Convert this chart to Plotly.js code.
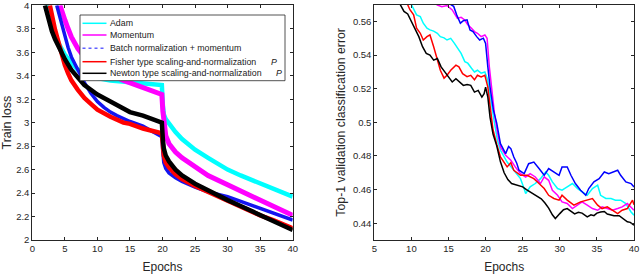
<!DOCTYPE html>
<html>
<head>
<meta charset="utf-8">
<script src="https://cdn.plot.ly/plotly-3.0.1.min.js"></script>
<style>html,body{margin:0;padding:0;background:#fff;}#chart{width:640px;height:274px;}</style>
</head>
<body>
<div id="chart"></div>
<script>
// ---------- Left panel: train loss ----------
const names = ["Adam", "Momentum", "Batch normalization + momentum", "Fisher type scaling-and-normalization", "Newton type scaling-and-normalization"];
const colors = ["#00FFFF", "#FF00FF", "#0000FF", "#FF0000", "#000000"];

const adamLossX = [2.2,2.6,3,3.5,4,4.5,5,6,7,8,9,10,12,14,16,18,19.9,20.05,20.2,20.5,21,22,23,24,25,27,30,32,35,37,40];
const adamLossY = [4.0,3.92,3.85,3.76,3.68,3.62,3.58,3.51,3.45,3.42,3.40,3.38,3.36,3.35,3.34,3.33,3.32,3.15,3.07,3.03,2.99,2.92,2.86,2.81,2.77,2.70,2.60,2.55,2.48,2.44,2.37];

const momLossX = [4.25,4.6,5,5.5,6,7,8,9,10,12,14,15,17,19.9,20.05,20.2,20.5,21,22,23,25,27,30,32,35,37,40];
const momLossY = [4.0,3.93,3.875,3.80,3.73,3.63,3.56,3.52,3.48,3.41,3.36,3.34,3.29,3.24,3.10,2.98,2.89,2.82,2.75,2.70,2.62,2.55,2.47,2.42,2.34,2.29,2.21];

const bnLossX = [3.75,4,4.5,5,5.5,6,7,8,9,10,11,12,13,15,17,19.9,20.05,20.2,20.5,21,22,23,25,27,30,32,35,37,40];
const bnLossY = [4.0,3.95,3.84,3.73,3.64,3.56,3.45,3.34,3.25,3.18,3.13,3.09,3.06,3.01,2.97,2.88,2.75,2.66,2.61,2.57,2.53,2.50,2.45,2.41,2.37,2.33,2.27,2.23,2.17];

const fisherLossX = [2.7,3,3.5,4,4.5,5,5.5,6,7,8,9,10,12,14,15,17,19.9,20.05,20.2,20.5,21,22,23,25,27,30,32,35,37,40];
const fisherLossY = [4.0,3.91,3.79,3.69,3.58,3.49,3.42,3.36,3.28,3.21,3.16,3.11,3.05,3.00,2.99,2.95,2.91,2.80,2.72,2.66,2.62,2.56,2.52,2.46,2.41,2.33,2.28,2.21,2.17,2.10];

const newtonLossX = [1.95,2.5,3,3.5,4,4.5,5,6,7,8,9,10,12,14,15,17,19.9,20.05,20.2,20.5,21,22,23,25,27,30,32,35,37,40];
const newtonLossY = [4.0,3.88,3.78,3.71,3.65,3.59,3.54,3.45,3.38,3.32,3.28,3.24,3.18,3.12,3.09,3.06,3.00,2.86,2.78,2.72,2.67,2.60,2.55,2.48,2.42,2.34,2.29,2.21,2.16,2.085];

// ---------- Right panel: top-1 validation error ----------
const adamErrX = [10.0,10.4,10.7,11.2,11.6,12.1,12.5,13,13.5,13.9,14.4,14.8,15.3,15.8,16.2,16.7,17.2,17.6,18.1,18.5,18.9,19.4,19.9,20.2,20.5,20.8,21.2,21.6,22,22.9,23.8,24.7,25.2,25.4,26,26.7,27.4,28.1,28.5,29,29.7,30.3,31,31.7,32.4,33,33.7,34.4,35.1,35.5,36.2,36.9,37.5,38.2,38.9,39.6,40];
const adamErrY = [0.57,0.566,0.5639,0.5629,0.559,0.556,0.555,0.5543,0.553,0.551,0.5503,0.549,0.550,0.547,0.544,0.541,0.5361,0.5352,0.5322,0.530,0.531,0.5293,0.530,0.5263,0.5193,0.5094,0.4996,0.4893,0.4834,0.4764,0.4715,0.4665,0.4605,0.4576,0.4616,0.4636,0.4665,0.4705,0.4685,0.4646,0.4606,0.4596,0.4616,0.4636,0.4606,0.4586,0.4566,0.4606,0.4626,0.4566,0.4547,0.4547,0.4537,0.4537,0.4517,0.4467,0.4448];

const momErrX = [13.4,14.1,14.8,15.5,16.2,16.7,17.2,17.6,18.1,18.5,18.9,19.4,19.9,20.2,20.5,20.8,21.2,21.6,22,22.7,23.4,24,24.7,25.4,26,26.7,27.4,27.9,28.5,29,29.7,30.3,31,31.7,32.4,33,33.7,34.4,35.1,35.7,36.4,37.1,37.8,38.4,39.1,39.8,40];
const momErrY = [0.57,0.5688,0.5695,0.5669,0.5619,0.5625,0.5609,0.558,0.556,0.554,0.553,0.551,0.552,0.550,0.5332,0.521,0.505,0.494,0.4853,0.4804,0.4774,0.4735,0.4695,0.4675,0.4695,0.4675,0.4636,0.4675,0.4655,0.4596,0.4566,0.4527,0.4517,0.4487,0.4507,0.4527,0.4507,0.4487,0.4477,0.4497,0.4487,0.4477,0.4487,0.4497,0.4517,0.4487,0.4477];

const bnErrX = [15.3,15.7,16.1,16.6,17,17.5,17.9,18.3,18.8,19.2,19.7,20,20.3,20.6,21.05,21.5,22,22.4,22.7,23.1,23.4,23.8,24.2,24.5,25.2,25.8,26.5,27.2,27.9,28.5,29.2,29.9,30.3,31,31.5,32.1,32.8,33.5,33.9,34.6,35.3,36,36.6,37.3,37.8,38.2,38.9,39.6,40];
const bnErrY = [0.57,0.569,0.564,0.559,0.5605,0.561,0.555,0.554,0.551,0.549,0.5501,0.547,0.533,0.521,0.5074,0.4995,0.4873,0.4837,0.4814,0.4856,0.4844,0.4794,0.4757,0.4715,0.4695,0.4754,0.4764,0.4725,0.4685,0.4725,0.4705,0.4685,0.4735,0.4735,0.4685,0.4636,0.4596,0.4566,0.4606,0.4646,0.4665,0.4705,0.4695,0.4705,0.4715,0.4685,0.4646,0.4636,0.4616];

const fisherErrX = [9.5,9.8,10.3,10.7,11.2,11.6,12.1,12.5,13,13.5,13.9,14.4,14.8,15.3,16,16.4,16.9,17.5,18,18.5,18.9,19.4,19.9,20.3,20.5,21,21.5,22,22.9,23.4,23.8,24.7,25.6,26.5,27.2,27.9,28.5,29.2,29.9,30.3,31,31.9,32.8,33.7,34.4,35.1,35.7,36.4,37.1,37.8,38.4,39.1,39.8,40];
const fisherErrY = [0.57,0.567,0.564,0.556,0.553,0.549,0.551,0.552,0.545,0.538,0.531,0.5263,0.528,0.531,0.534,0.533,0.529,0.5272,0.528,0.5253,0.528,0.527,0.528,0.521,0.513,0.4956,0.487,0.4794,0.4735,0.476,0.4715,0.4685,0.4685,0.4665,0.4636,0.4606,0.4566,0.4547,0.4537,0.4566,0.4537,0.4507,0.4527,0.4537,0.4547,0.4507,0.4487,0.4497,0.4477,0.4457,0.4477,0.4487,0.4537,0.451];

const newtonErrX = [8.5,9,9.5,10,10.5,11,11.5,12,12.5,13,13.5,14,14.5,15,15.5,16,16.5,17,17.5,18,18.5,19,19.5,19.8,20,20.3,20.6,21,21.5,22,22.5,23,23.5,24,24.5,25,25.5,26,26.5,27,27.5,28,28.5,29,29.4,30,30.5,31,31.5,32,32.5,33,33.7,34.2,34.6,35,35.5,36,36.4,37,37.3,38,38.5,39.1,39.5,40];
const newtonErrY = [0.57,0.566,0.5645,0.560,0.555,0.551,0.545,0.541,0.540,0.537,0.538,0.533,0.530,0.527,0.524,0.526,0.524,0.522,0.5225,0.522,0.518,0.519,0.515,0.517,0.521,0.515,0.503,0.493,0.486,0.4765,0.470,0.466,0.4636,0.463,0.462,0.4616,0.460,0.4586,0.457,0.4555,0.4545,0.452,0.449,0.445,0.4428,0.4457,0.448,0.4487,0.447,0.4455,0.4465,0.446,0.4438,0.445,0.4445,0.446,0.4467,0.447,0.4455,0.445,0.4445,0.4445,0.443,0.4408,0.4405,0.4388];

const lossTickVals = [2,2.2,2.4,2.6,2.8,3,3.2,3.4,3.6,3.8,4];
const lossTickText = ["2","2.2","2.4","2.6","2.8","3","3.2","3.4","3.6","3.8","4"];
const errTickVals = [0.44,0.46,0.48,0.5,0.52,0.54,0.56];
const errTickText = ["0.44","0.46","0.48","0.5","0.52","0.54","0.56"];
const lossEpochTicks = [0,5,10,15,20,25,30,35,40];
const errEpochTicks = [5,10,15,20,25,30,35,40];

const lossX = [adamLossX, momLossX, bnLossX, fisherLossX, newtonLossX];
const lossY = [adamLossY, momLossY, bnLossY, fisherLossY, newtonLossY];
const errX = [adamErrX, momErrX, bnErrX, fisherErrX, newtonErrX];
const errY = [adamErrY, momErrY, bnErrY, fisherErrY, newtonErrY];
const lossWidths = [4.5, 5, 3.5, 4.5, 4.5];

const traces = [];
for (let i = 0; i < 5; i++) {
  traces.push({x: lossX[i], y: lossY[i], type: 'scatter', mode: 'lines', name: names[i],
    line: {color: i === 2 ? '#1414F0' : colors[i], width: lossWidths[i]},
    xaxis: 'x', yaxis: 'y', showlegend: false, hoverinfo: 'skip'});
}
for (let i = 0; i < 5; i++) {
  traces.push({x: errX[i], y: errY[i], type: 'scatter', mode: 'lines', name: names[i],
    line: {color: colors[i], width: 1.5}, xaxis: 'x2', yaxis: 'y2', showlegend: false, hoverinfo: 'skip'});
}

const W = 640, H = 274;
const px = v => v / W;
const py = v => 1 - v / H;
const axisCol = '#262626';
const fam = 'Liberation Sans, Arial, Helvetica, sans-serif';
const font = {family: fam, size: 9.5, color: axisCol};

function axisBase(extra) {
  return Object.assign({
    showline: true, linecolor: axisCol, linewidth: 1, mirror: 'ticks',
    ticks: 'inside', ticklen: 3, tickwidth: 1, tickcolor: axisCol,
    showgrid: false, zeroline: false, tickfont: font, fixedrange: true,
    ticklabeloverflow: 'allow'
  }, extra);
}

// legend drawn as shapes + annotations
const rowY = [23.3, 35, 48.3, 61.7, 73.3];
const shapes = [{type: 'rect', xref: 'paper', yref: 'paper', x0: px(80), x1: px(285), y0: py(80.7), y1: py(15),
  fillcolor: '#FFFFFF', line: {color: axisCol, width: 0.8}}];
const annotations = [];
const legFont = {family: fam, size: 8.8, color: '#1a1a1a'};
for (let i = 0; i < 5; i++) {
  shapes.push({type: 'line', xref: 'paper', yref: 'paper', x0: px(82.5), x1: px(106.5), y0: py(rowY[i]), y1: py(rowY[i]),
    line: {color: i === 2 ? '#6060FF' : colors[i], width: 1.5, dash: i === 2 ? 'dot' : 'solid'}});
  annotations.push({xref: 'paper', yref: 'paper', x: px(108.3), y: py(rowY[i]), xanchor: 'left', yanchor: 'middle',
    text: names[i], showarrow: false, font: legFont});
}
annotations.push({xref: 'paper', yref: 'paper', x: px(269), y: py(rowY[3]), xanchor: 'left', yanchor: 'middle',
  text: '<i>P</i>', showarrow: false, font: legFont});
annotations.push({xref: 'paper', yref: 'paper', x: px(274), y: py(rowY[4]), xanchor: 'left', yanchor: 'middle',
  text: '<i>P</i>', showarrow: false, font: legFont});

const titleFont = {family: fam, size: 12, color: axisCol};
const layout = {
  width: W, height: H, margin: {l: 0, r: 0, t: 0, b: 0},
  paper_bgcolor: '#FFFFFF', plot_bgcolor: '#FFFFFF', font: font, showlegend: false,
  xaxis: axisBase({domain: [px(32.3), px(292.7)], range: [0, 40], tickvals: lossEpochTicks, anchor: 'y',
    title: {text: 'Epochs', font: titleFont, standoff: 9}}),
  yaxis: axisBase({domain: [py(240), py(5.3)], range: [2, 4], tickvals: lossTickVals, ticktext: lossTickText, anchor: 'x',
    title: {text: 'Train loss', font: {family: fam, size: 12.5, color: axisCol}, standoff: 4}}),
  xaxis2: axisBase({domain: [px(374.3), px(634)], range: [5, 40], tickvals: errEpochTicks, anchor: 'y2',
    title: {text: 'Epochs', font: titleFont, standoff: 9}}),
  yaxis2: axisBase({domain: [py(240), py(4.7)], range: [0.43, 0.57], tickvals: errTickVals, ticktext: errTickText, anchor: 'x2',
    title: {text: 'Top-1 validation classification error', font: {family: fam, size: 12.3, color: axisCol}, standoff: 4}}),
  shapes: shapes,
  annotations: annotations
};

Plotly.newPlot('chart', traces, layout, {displayModeBar: false, staticPlot: true});
</script>
</body>
</html>
